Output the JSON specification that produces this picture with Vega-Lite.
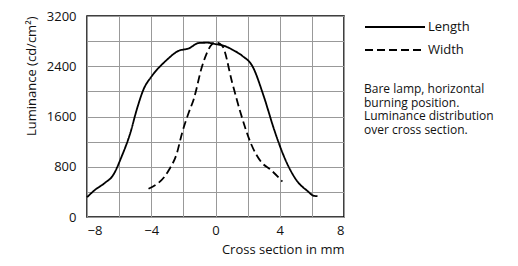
{
  "$schema": "https://vega.github.io/schema/vega-lite/v6.json",
  "autosize": "none",
  "width": 257,
  "height": 201,
  "padding": {"left": 87, "top": 16, "right": 174, "bottom": 49},
  "background": "white",
  "config": {
    "font": "Open Sans",
    "view": {"stroke": "black", "strokeWidth": 1.5}
  },
  "data": {
    "values": [
      {"x": -8.0, "y": 315, "series": "Length"},
      {"x": -7.5, "y": 432, "series": "Length"},
      {"x": -6.9, "y": 540, "series": "Length"},
      {"x": -6.36, "y": 672, "series": "Length"},
      {"x": -5.84, "y": 965, "series": "Length"},
      {"x": -5.3, "y": 1340, "series": "Length"},
      {"x": -4.9, "y": 1712, "series": "Length"},
      {"x": -4.48, "y": 2032, "series": "Length"},
      {"x": -3.96, "y": 2245, "series": "Length"},
      {"x": -3.1, "y": 2485, "series": "Length"},
      {"x": -2.3, "y": 2645, "series": "Length"},
      {"x": -1.67, "y": 2683, "series": "Length"},
      {"x": -1.04, "y": 2770, "series": "Length"},
      {"x": -0.5, "y": 2775, "series": "Length"},
      {"x": 0.0, "y": 2752, "series": "Length"},
      {"x": 0.6, "y": 2720, "series": "Length"},
      {"x": 1.04, "y": 2665, "series": "Length"},
      {"x": 1.67, "y": 2565, "series": "Length"},
      {"x": 2.29, "y": 2405, "series": "Length"},
      {"x": 3.0, "y": 1925, "series": "Length"},
      {"x": 3.65, "y": 1392, "series": "Length"},
      {"x": 4.35, "y": 912, "series": "Length"},
      {"x": 5.1, "y": 565, "series": "Length"},
      {"x": 5.7, "y": 420, "series": "Length"},
      {"x": 6.14, "y": 336, "series": "Length"},
      {"x": 6.35, "y": 331, "series": "Length"},
      {"x": -4.17, "y": 450, "series": "Width"},
      {"x": -2.92, "y": 740, "series": "Width"},
      {"x": -2.4, "y": 1019, "series": "Width"},
      {"x": -2.08, "y": 1339, "series": "Width"},
      {"x": -1.67, "y": 1659, "series": "Width"},
      {"x": -1.36, "y": 1872, "series": "Width"},
      {"x": -0.83, "y": 2405, "series": "Width"},
      {"x": -0.21, "y": 2752, "series": "Width"},
      {"x": 0.0, "y": 2780, "series": "Width"},
      {"x": 0.42, "y": 2725, "series": "Width"},
      {"x": 1.04, "y": 2139, "series": "Width"},
      {"x": 1.56, "y": 1659, "series": "Width"},
      {"x": 2.19, "y": 1179, "series": "Width"},
      {"x": 2.9, "y": 860, "series": "Width"},
      {"x": 3.4, "y": 760, "series": "Width"},
      {"x": 4.16, "y": 565, "series": "Width"}
    ]
  },
  "mark": {"type": "line", "color": "black", "strokeWidth": 1.8, "interpolate": "monotone"},
  "encoding": {
    "x": {
      "field": "x", "type": "quantitative",
      "scale": {"domain": [-8, 8], "nice": false, "zero": false},
      "axis": {
        "values": [-8, -6, -4, -2, 0, 2, 4, 6, 8],
        "labelExpr": "datum.value % 4 === 0 ? datum.label : ''",
        "ticks": false, "domain": false,
        "grid": true, "gridColor": "#999", "gridWidth": 1, "gridOpacity": 1,
        "labelFont": "Open Sans", "labelFontSize": 13, "labelColor": "#111", "labelPadding": 7,
        "title": "Cross section in mm", "titleAnchor": "end", "titleFont": "Open Sans",
        "titleFontSize": 13, "titleFontWeight": "normal", "titleColor": "#111", "titlePadding": 6
      }
    },
    "y": {
      "field": "y", "type": "quantitative",
      "scale": {"domain": [0, 3200], "nice": false},
      "axis": {
        "values": [0, 400, 800, 1200, 1600, 2000, 2400, 2800, 3200],
        "labelExpr": "datum.value % 800 === 0 ? datum.value : ''",
        "ticks": false, "domain": false,
        "grid": true, "gridColor": "#999", "gridWidth": 1, "gridOpacity": 1,
        "labelFont": "Open Sans", "labelFontSize": 13, "labelColor": "#111", "labelPadding": 11,
        "title": "Luminance (cd/cm²)", "titleAnchor": "end", "titleFont": "Open Sans",
        "titleFontSize": 13, "titleFontWeight": "normal", "titleColor": "#111", "titlePadding": 8
      }
    },
    "strokeDash": {
      "field": "series", "type": "nominal",
      "scale": {"domain": ["Length", "Width"], "range": [[1, 0], [8, 4]]},
      "legend": {
        "orient": "none", "legendX": 277, "legendY": 0,
        "symbolType": "M-1,0H5", "symbolSize": 400, "symbolStrokeWidth": 1.8,
        "symbolStrokeColor": "black", "symbolFillColor": "transparent",
        "labelFont": "Open Sans", "labelFontSize": 13, "labelColor": "#111", "labelOffset": 42,
        "rowPadding": 5,
        "title": ["Bare lamp, horizontal", "burning position.", "Luminance distribution", "over cross section."],
        "titleOrient": "bottom", "titleAnchor": "start", "titleFont": "Open Sans",
        "titleFontSize": 12, "titleFontWeight": "normal", "titleColor": "#111",
        "titleLineHeight": 13.5, "titlePadding": 27, "titleLimit": 200
      }
    }
  }
}
